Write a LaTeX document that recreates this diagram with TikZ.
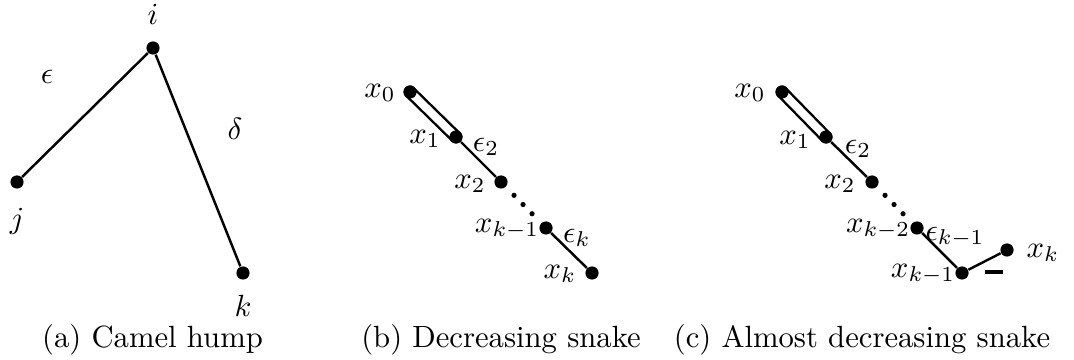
\documentclass[tikz,border=0pt]{standalone}
\usepackage{tikz}
\usetikzlibrary{calc,backgrounds}

\begin{document}
\begin{tikzpicture}[x=0.326pt, y=-0.326pt,
  vtx/.style={circle, fill=black, inner sep=0pt, minimum size=4.3pt},
  tinydot/.style={circle, fill=black, inner sep=0pt, minimum size=1.7pt},
  edge/.style={line width=0.8pt},
  twin/.style={line width=0.8pt, double, double distance=2.6pt, line cap=round},
  lbl/.style={inner sep=0pt},
  captxt/.style={inner sep=0pt, anchor=base}]
  \useasboundingbox (0,0) rectangle (1074,360);

  % (a) camel hump
  \node[vtx] (i) at (153,48) {};
  \node[vtx] (j) at (17,182) {};
  \node[vtx] (k) at (243,273) {};
  \draw[edge] (i) -- (j);
  \draw[edge] (i) -- (k);
  \node[lbl] (il) at (153,14) {$i$};
  \node[lbl] (jl) at (17,221) {$j$};
  \node[lbl] (kl) at (243,306) {$k$};
  \node[lbl] (eps) at (47,77) {$\epsilon$};
  \node[lbl] (del) at (235,129) {$\delta$};
  \node[captxt] (capa) at (152.5,348) {(a) Camel hump};

  % (b) decreasing snake
  \node[vtx] (b0) at (410,92) {};
  \node[vtx] (b1) at (456,137) {};
  \node[vtx] (b2) at (501,182) {};
  \node[vtx] (bk1) at (546,228) {};
  \node[vtx] (bk) at (592,273) {};
  \begin{scope}[on background layer]
    \draw[twin] (b0.center) -- (b1.center);
  \end{scope}
  \draw[edge] (b1) -- (b2);
  \draw[edge] (bk1) -- (bk);
  \foreach \t in {0.29,0.49,0.69}
    \node[tinydot] at ($(b2)!\t!(bk1)$) {};
  \node[lbl] (b0l) at (380,93) {$x_0$};
  \node[lbl] (b1l) at (425,139) {$x_1$};
  \node[lbl] (b2l) at (470,184) {$x_2$};
  \node[lbl] (bk1l) at (507,229) {$x_{k-1}$};
  \node[lbl] (bkl) at (560,274) {$x_k$};
  \node[lbl] (be2) at (486,147) {$\epsilon_2$};
  \node[lbl] (bek) at (577,238) {$\epsilon_k$};
  \node[captxt] (capb) at (501,348) {(b) Decreasing snake};

  % (c) almost decreasing snake
  \node[vtx] (c0) at (782,92) {};
  \node[vtx] (c1) at (826,137) {};
  \node[vtx] (c2) at (872,182) {};
  \node[vtx] (ck2) at (917,228) {};
  \node[vtx] (ck1) at (962,273) {};
  \node[vtx] (ck) at (1007,250) {};
  \begin{scope}[on background layer]
    \draw[twin] (c0.center) -- (c1.center);
  \end{scope}
  \draw[edge] (c1) -- (c2);
  \draw[edge] (ck2) -- (ck1);
  \draw[edge] (ck1) -- (ck);
  \foreach \t in {0.29,0.49,0.69}
    \node[tinydot] at ($(c2)!\t!(ck2)$) {};
  \node[lbl] (c0l) at (750,93) {$x_0$};
  \node[lbl] (c1l) at (795,140) {$x_1$};
  \node[lbl] (c2l) at (840,184) {$x_2$};
  \node[lbl] (ck2l) at (878,229) {$x_{k-2}$};
  \node[lbl] (ck1l) at (923,274) {$x_{k-1}$};
  \node[lbl] (ckl) at (1043,253) {$x_k$};
  \node[lbl] (ce2) at (858,149) {$\epsilon_2$};
  \node[lbl] (cek1) at (955,237) {$\epsilon_{k-1}$};
  \node[lbl] (neg) at (994,272) {\rule{5.9pt}{1.3pt}};
  \node[captxt] (capc) at (862,348) {(c) Almost decreasing snake};
\end{tikzpicture}
\end{document}
